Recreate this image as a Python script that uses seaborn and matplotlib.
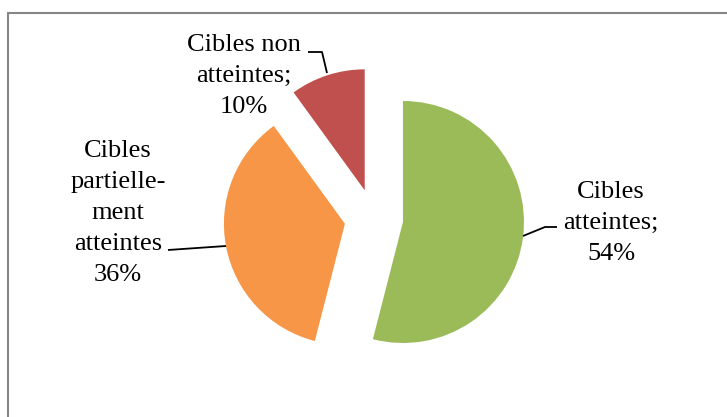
import matplotlib
matplotlib.use("Agg")
import matplotlib.pyplot as plt
from matplotlib.lines import Line2D
import seaborn as sns

# Share of targets by attainment status (percent)
categories = ["Cibles atteintes", "Cibles partiellement atteintes", "Cibles non atteintes"]
values = [54, 36, 10]
label_stems = ["Cibles\natteintes;", "Cibles\npartielle-\nment\natteintes", "Cibles non\natteintes;"]
colors = ["#9BBB59", "#F79646", "#C0504D"]

sns.set_theme(style="white")
plt.rcParams["font.family"] = ["Liberation Serif", "DejaVu Serif"]

W, H = 727, 417
fig = plt.figure(figsize=(W / 100, H / 100), dpi=100)
fig.patch.set_facecolor("white")
ax = fig.add_axes([0, 0, 1, 1])

palette = sns.color_palette(colors)
center = (373.8, H - 218.3)
radius = 121
ax.pie(
    values,
    colors=palette,
    startangle=90,
    counterclock=False,
    explode=[29.4] * len(values),
    radius=radius,
    center=center,
    frame=True,
    wedgeprops=dict(linewidth=0),
)
ax.set_xlim(0, W)
ax.set_ylim(0, H)
ax.set_aspect("equal")
ax.axis("off")

# Labels with the percentage taken from the data
labels = [f"{s}\n{v}%" for s, v in zip(label_stems, values)]
label_pos = [(611, 223), (118, 213), (244, 76)]
for lab, (x, y) in zip(labels, label_pos):
    ax.text(x, H - y, lab, ha="center", va="center", multialignment="center",
            fontsize=19, color="black", linespacing=1.52)

# Leader lines from labels to slices
leaders = [
    [(523, 236), (545, 227), (557, 227)],
    [(168, 250), (226, 246)],
    [(308, 52), (322, 52), (327, 73)],
]
for pts in leaders:
    xs = [p[0] for p in pts]
    ys = [H - p[1] for p in pts]
    ax.plot(xs, ys, color="black", linewidth=1.3, solid_capstyle="butt")

# Chart-area frame (left and top edges)
frame_color = "#868686"
fig.add_artist(Line2D([8 / W, 8 / W], [0, 1 - 13 / H], color=frame_color, linewidth=1.5,
                      transform=fig.transFigure))
fig.add_artist(Line2D([8 / W, 1], [1 - 13 / H, 1 - 13 / H], color=frame_color, linewidth=1.5,
                      transform=fig.transFigure))

fig.savefig("out.png", dpi=100, facecolor="white")
